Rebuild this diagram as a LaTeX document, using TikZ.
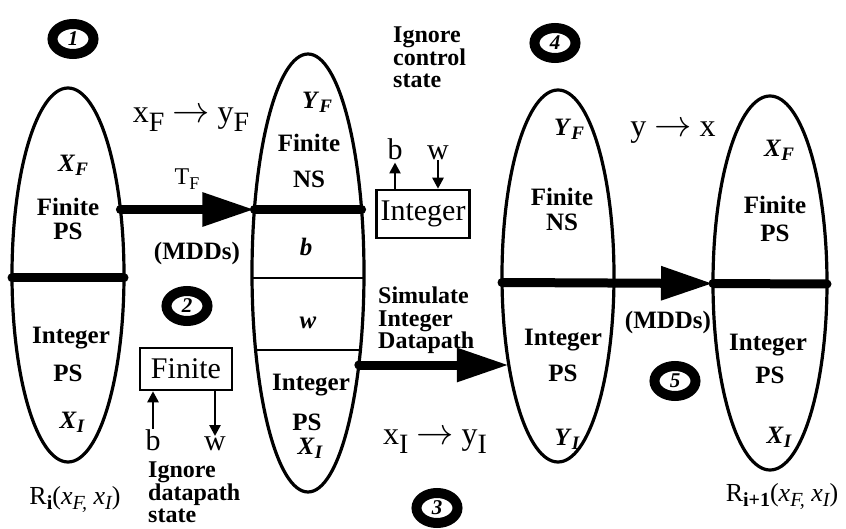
\documentclass[tikz,border=0pt]{standalone}
\usepackage{fontspec}
\setmainfont{Liberation Serif}
\usetikzlibrary{shapes.geometric,arrows.meta}

% lowered index letter: #1 depth, #2 size, #3 text
\newcommand{\lowidx}[3]{\lower#1\hbox{\fontsize{#2}{#2}\selectfont #3}}
% bold italic variable with an index
\newcommand{\varidx}[2]{\textbf{\textit{#1}\lowidx{4pt}{19}{\bfseries\itshape #2}}}
% long arrow for the mapping labels
\newcommand{\maparrow}{\scalebox{1.5}{$\rightarrow$}}

\begin{document}
\begin{tikzpicture}[x=1pt,y=-1pt,
  lobe/.style={ellipse, draw, line width=3.2pt, inner sep=0pt, minimum width=112pt},
  lt/.style={font=\fontsize{25}{25}\selectfont\bfseries, inner sep=0pt, align=center},
  lti/.style={font=\fontsize{25}{25}\selectfont\bfseries\itshape, inner sep=0pt},
  bar/.style={line width=9pt, line cap=round},
  rule/.style={line width=2.5pt},
  flow/.style={line width=9pt, -{Triangle[length=52pt,width=32pt]}},
  badge/.style={ellipse, draw, line width=10pt, minimum width=41pt, minimum height=30pt,
    inner sep=0pt, font=\fontsize{21}{21}\selectfont\bfseries\itshape},
  regbox/.style={draw, line width=2.5pt, inner sep=0pt, font=\fontsize{30}{30}\selectfont},
  tick/.style={line width=2.5pt, -{Triangle[length=11pt,width=11pt]}},
  letter/.style={font=\fontsize{30}{30}\selectfont, inner sep=0pt, anchor=base},
  big/.style={font=\fontsize{32}{32}\selectfont, inner sep=0pt},
  note/.style={font=\fontsize{24}{22.5}\selectfont\bfseries, align=left, inner sep=0pt, anchor=north west},
  rset/.style={font=\fontsize{26}{26}\selectfont, inner sep=0pt},
]
\useasboundingbox (0,0) rectangle (846,529);

% state-set lobes
\node[lobe, minimum height=374pt] (E1) at (68,275) {};
\node[lobe, minimum height=438pt] (E2) at (308,273) {};
\node[lobe, minimum height=372pt] (E3) at (558,276) {};
\node[lobe, minimum height=374pt, minimum width=114pt] (E4) at (770,283) {};

% border points used by the dividers and flows
\coordinate (e1l) at (12,278);    \coordinate (e1r) at (124,278);
\coordinate (e1a) at (120.4,209.5);
\coordinate (e2a) at (254.4,209.5); \coordinate (e2b) at (361.6,209.5);
\coordinate (e2c) at (252,278);   \coordinate (e2d) at (364,278);
\coordinate (e2e) at (255.6,350); \coordinate (e2f) at (360.4,350);
\coordinate (e2g) at (358.8,365);
\coordinate (e3a) at (508.8,365);
\coordinate (e3l) at (502,282.5);
\coordinate (e4l) at (713,283.5); \coordinate (e4r) at (827,284);

% dividers
\draw[bar] (e1l) -- (e1r);
\draw[bar] (e2a) -- (e2b);
\draw[rule] (e2c) -- (e2d);
\draw[rule] (e2e) -- (e2f);
\draw[bar] (e4l) -- (e4r);

% flows
\fill (e1a) circle (4.5pt);
\draw[flow] (e1a) -- (e2a);
\fill (e2g) circle (4.5pt);
\draw[flow] (e2g) -- (e3a);
\fill (e3l) circle (4.5pt);
\draw[flow] (e3l) -- (e4l);

% step badges
\node[badge] (s1) at (73,39) {1};
\node[badge] (s2) at (187,306) {2};
\node[badge] (s3) at (437,508) {3};
\node[badge] (s4) at (555,43) {4};
\node[badge] (s5) at (675,381) {5};

% lobe 1
\node[lt] (e1xf) at (73,165) {\varidx{X}{F}};
\node[lt] (e1fin) at (68,207) {Finite};
\node[lt] (e1ps) at (68,231) {PS};
\node[lt] (e1int) at (71,338) {Integer};
\node[lt] (e1ps2) at (68,373) {PS};
\node[lt] (e1xi) at (72,422) {\varidx{X}{I}};

% lobe 2
\node[lt] (e2yf) at (317,102) {\varidx{Y}{F}};
\node[lt] (e2fin) at (309,143) {Finite};
\node[lt] (e2ns) at (309,179) {NS};
\node[lti] (e2b) at (306,247) {b};
\node[lti] (e2w) at (308,323) {w};
\node[lt] (e2int) at (311,385) {Integer};
\node[lt] (e2ps) at (307,422) {PS};
\node[lt] (e2xi) at (310,448) {\varidx{X}{I}};

% lobe 3
\node[lt] (e3yf) at (569,129) {\varidx{Y}{F}};
\node[lt] (e3fin) at (562,197) {Finite};
\node[lt] (e3ns) at (562,222) {NS};
\node[lt] (e3int) at (563,340) {Integer};
\node[lt] (e3ps) at (563,373) {PS};
\node[lt] (e3yi) at (567,439) {\varidx{Y}{I}};

% lobe 4
\node[lt] (e4xf) at (779,150) {\varidx{X}{F}};
\node[lt] (e4fin) at (775,205) {Finite};
\node[lt] (e4ps) at (775,233) {PS};
\node[lt] (e4int) at (768,345) {Integer};
\node[lt] (e4ps2) at (770,375) {PS};
\node[lt] (e4xi) at (779,437) {\varidx{X}{I}};

% transition labels
\node[big] (tfmap) at (191,120) {x\lowidx{9pt}{28}{F} \maparrow{} y\lowidx{9pt}{28}{F}};
\node[font=\fontsize{24}{24}\selectfont, inner sep=0pt] (tf) at (187,179) {T\lowidx{5pt}{18}{F}};
\node[lt, font=\fontsize{25}{25}\selectfont\bfseries] (mdd1) at (197,253) {(MDDs)};
\node[big] (timap) at (435,442) {x\lowidx{9pt}{28}{I} \maparrow{} y\lowidx{9pt}{28}{I}};
\node[big] (yx) at (673,133) {y \maparrow{} x};
\node[lt, font=\fontsize{25}{25}\selectfont\bfseries] (mdd2) at (668,322) {(MDDs)};

% finite abstraction box
\node[regbox, minimum width=92pt, minimum height=42pt] (finbox) at (186,369) {Finite};
\node[letter] (fb) at (153,450) {b};
\node[letter] (fw) at (215,450) {w};
\draw[tick] (fb.north) -- (finbox.south -| fb.north);
\draw[tick] (finbox.south -| fw.north) -- (fw.north);
\node[note] (ign1) at (148,462) {Ignore\\datapath\\state};

% integer abstraction box
\node[regbox, minimum width=93pt, minimum height=48pt] (intbox) at (423,214) {Integer};
\node[letter] (ib) at (395,160) {b};
\node[letter] (iw) at (438,160) {w};
\draw[tick] (intbox.north -| ib.south) -- ([yshift=-2pt]ib.south);
\draw[tick] (iw.south) -- (intbox.north -| iw.south);
\node[note] (ign2) at (393,27) {Ignore\\control\\state};

\node[note] (sim) at (378,287) {Simulate\\Integer\\Datapath};

% reachable sets
\node[rset] (ri) at (75,500)
  {R\lowidx{5pt}{20}{\bfseries i}(\textit{x}\lowidx{5pt}{20}{\itshape F,} \textit{x}\lowidx{5pt}{20}{\itshape I})};
\node[rset] (ri1) at (782,497)
  {R\lowidx{5pt}{20}{\bfseries i+1}(\textit{x}\lowidx{5pt}{20}{\itshape F,} \textit{x}\lowidx{5pt}{20}{\itshape I})};
\end{tikzpicture}
\end{document}
